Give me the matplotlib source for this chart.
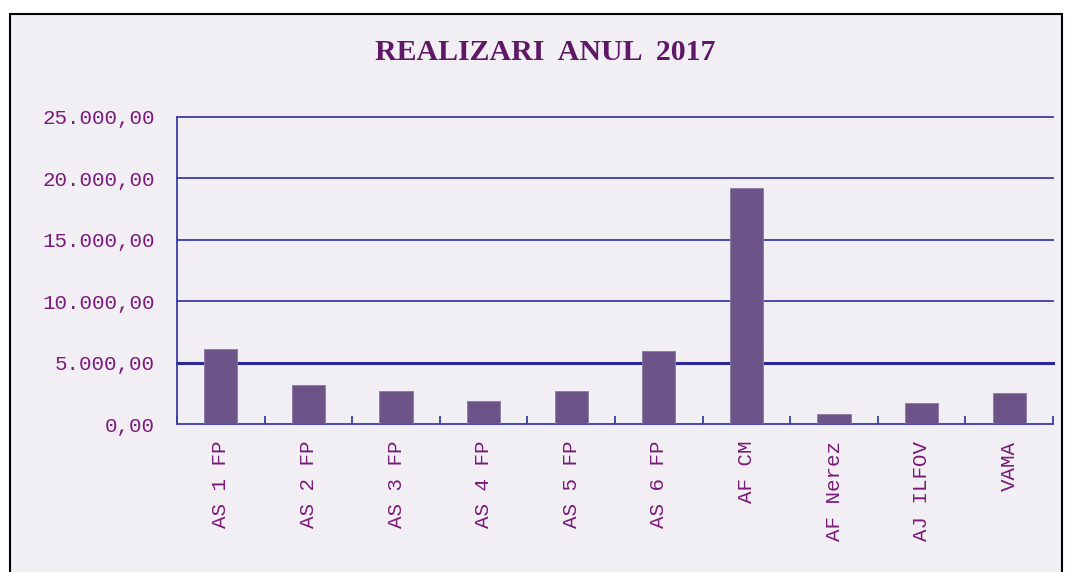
import numpy as np
import matplotlib.pyplot as plt
from matplotlib.patches import Rectangle
from matplotlib.ticker import FuncFormatter

# ------------------------------------------------------------------
# DATE
# ------------------------------------------------------------------
categorii = ["AS 1 FP", "AS 2 FP", "AS 3 FP", "AS 4 FP", "AS 5 FP",
             "AS 6 FP", "AF CM", "AF Nerez", "AJ ILFOV", "VAMA"]
valori = [6100, 3150, 2700, 1870, 2700, 5950, 19200, 810, 1710, 2520]
y_ticks = [0, 5000, 10000, 15000, 20000, 25000]
titlu = "REALIZARI  ANUL  2017"

# ------------------------------------------------------------------
# STIL
# ------------------------------------------------------------------
fundal = "#f1eff3"
albastru = "#3c3ca8"
mov_bara = "#6c5489"
mov_text = "#7a1a7a"
font_mono = "Liberation Mono"


def fmt_ro(v, pos):
    s = f"{v:,.2f}"
    return s.replace(",", "X").replace(".", ",").replace("X", ".")


fig = plt.figure(figsize=(10.7, 5.72), dpi=100)
fig.patch.set_facecolor("white")

# cadru negru al graficului
cadru = Rectangle((10 / 1070, -0.05), 1052 / 1070, 1 - 14 / 572 + 0.05,
                  transform=fig.transFigure, facecolor=fundal,
                  edgecolor="black", linewidth=1.5, zorder=-5)
fig.patches.append(cadru)

ax = fig.add_axes([177 / 1070, 1 - 424 / 572, 876 / 1070, 307 / 572])
ax.set_facecolor(fundal)

x = np.arange(len(categorii))
ax.bar(x, valori, width=0.38, color=mov_bara, edgecolor="#8a78a4",
       linewidth=0.6, zorder=3)

# linii de grila
for t in y_ticks[1:]:
    lw = 2.2 if t == 5000 else 1.3
    col = "#2a2a96" if t == 5000 else albastru
    ax.axhline(t, color=col, linewidth=lw, zorder=1, clip_on=False)

ax.set_xlim(-0.5, len(categorii) - 0.5)
ax.set_ylim(0, 25000)

ax.set_yticks(y_ticks)
ax.yaxis.set_major_formatter(FuncFormatter(fmt_ro))
ax.tick_params(axis="y", length=0, pad=16, labelsize=15, labelcolor=mov_text)

ax.set_xticks(x)
ax.set_xticklabels(categorii, rotation=90, va="top", ha="center")
ax.tick_params(axis="x", which="major", length=0, pad=12, labelsize=15,
               labelcolor=mov_text)
ax.set_xticks(np.arange(len(categorii) + 1) - 0.5, minor=True)
ax.tick_params(axis="x", which="minor", direction="in", length=6, width=1.3,
               color=albastru)

for lab in ax.get_xticklabels() + ax.get_yticklabels():
    lab.set_fontfamily(font_mono)

for side in ["top", "right"]:
    ax.spines[side].set_visible(False)
for side in ["left", "bottom"]:
    ax.spines[side].set_color(albastru)
    ax.spines[side].set_linewidth(1.3)

fig.text(545 / 1070, 1 - 53 / 572, titlu, ha="center", va="center",
         fontsize=21.5, fontweight="bold", family="Liberation Serif",
         color="#5e1866")

plt.savefig("out.png", dpi=100)
